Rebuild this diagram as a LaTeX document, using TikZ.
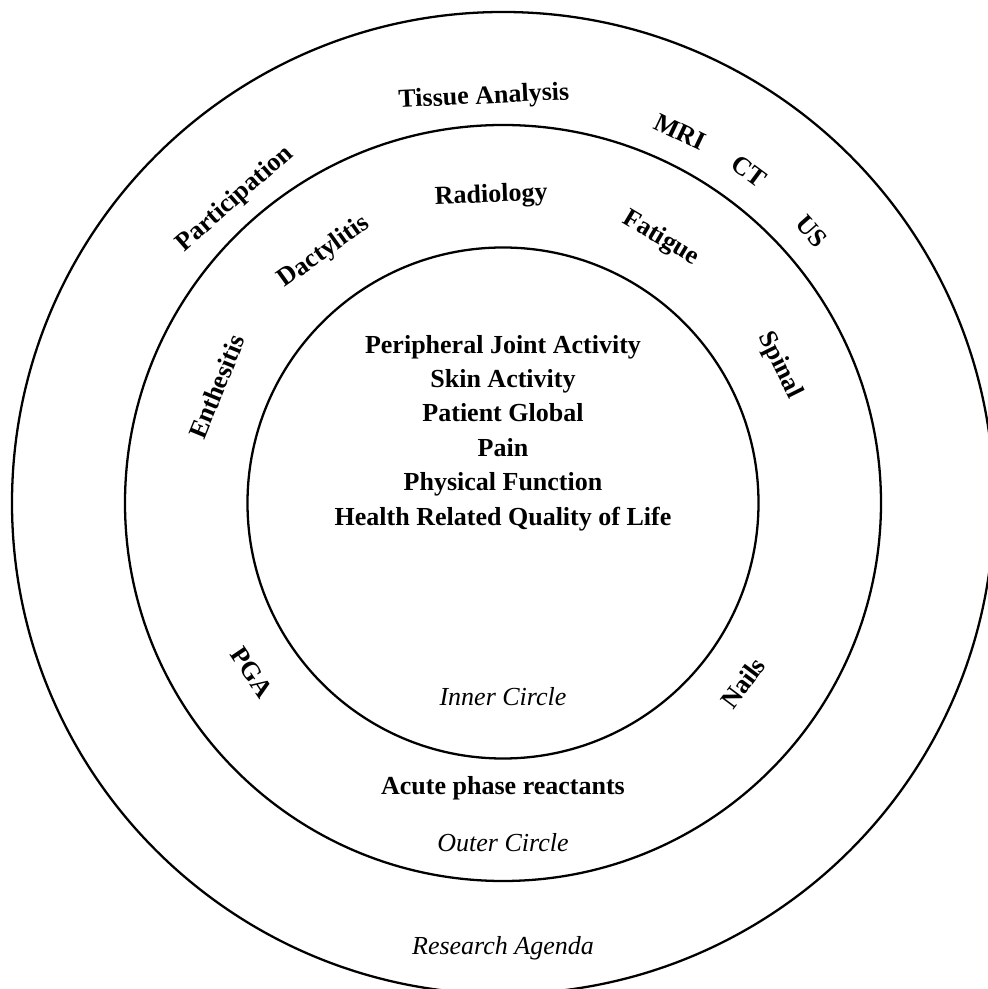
\documentclass[tikz,border=0pt]{standalone}
\usepackage{fontspec}
\setmainfont{Liberation Serif}
\tikzset{
  item/.style={font=\bfseries\fontsize{14.8}{19.6}\selectfont,inner sep=1pt},
  ring/.style={font=\itshape\fontsize{14.8}{19.6}\selectfont,inner sep=1pt},
}
\begin{document}
\begin{tikzpicture}[line width=1.3pt]
    \useasboundingbox (-10.06,-9.72) rectangle (9.68,10.06);
    \draw (0,0) circle (5.11);
    \draw (0,0) circle (7.56);
    \draw (0,0) circle (9.82);
    % inner circle
    \node[item,align=center] (core) at (0,1.4) {Peripheral Joint Activity\\Skin Activity\\Patient Global\\Pain\\Physical Function\\Health Related Quality of Life};
    \node[ring] (inner) at (0,-3.88) {Inner Circle};
    % outer circle
    \node[item,rotate=2.2]   (radio)  at (92.2:6.14)  {Radiology};
    \node[item,rotate=35.5]  (dact)   at (125.5:6.16) {Dactylitis};
    \node[item,rotate=-30.8] (fatig)  at (59.2:6.16)  {Fatigue};
    \node[item,rotate=67.9]  (enth)   at (157.9:6.18) {Enthesitis};
    \node[item,rotate=-63.5] (spinal) at (26.5:6.18)  {Spinal};
    \node[item,rotate=-56]   (pga)    at (214:6.06)   {PGA};
    \node[item,rotate=53.1]  (nails)  at (-36.9:6.0)  {Nails};
    \node[item] (apr)   at (0,-5.7) {Acute phase reactants};
    \node[ring] (outer) at (0,-6.8) {Outer Circle};
    % research agenda
    \node[item,rotate=2.7]   (tissue) at (92.7:8.12)  {Tissue Analysis};
    \node[item,rotate=41.4]  (partic) at (131.4:8.1)  {Participation};
    \node[item,rotate=-25.5] (mri)    at (64.5:8.22)  {MRI};
    \node[item,rotate=-36.5] (ct)     at (53.5:8.26)  {CT};
    \node[item,rotate=-48.7] (us)     at (41.3:8.22)  {US};
    \node[ring] (agenda) at (0,-8.9) {Research Agenda};
\end{tikzpicture}
\end{document}
